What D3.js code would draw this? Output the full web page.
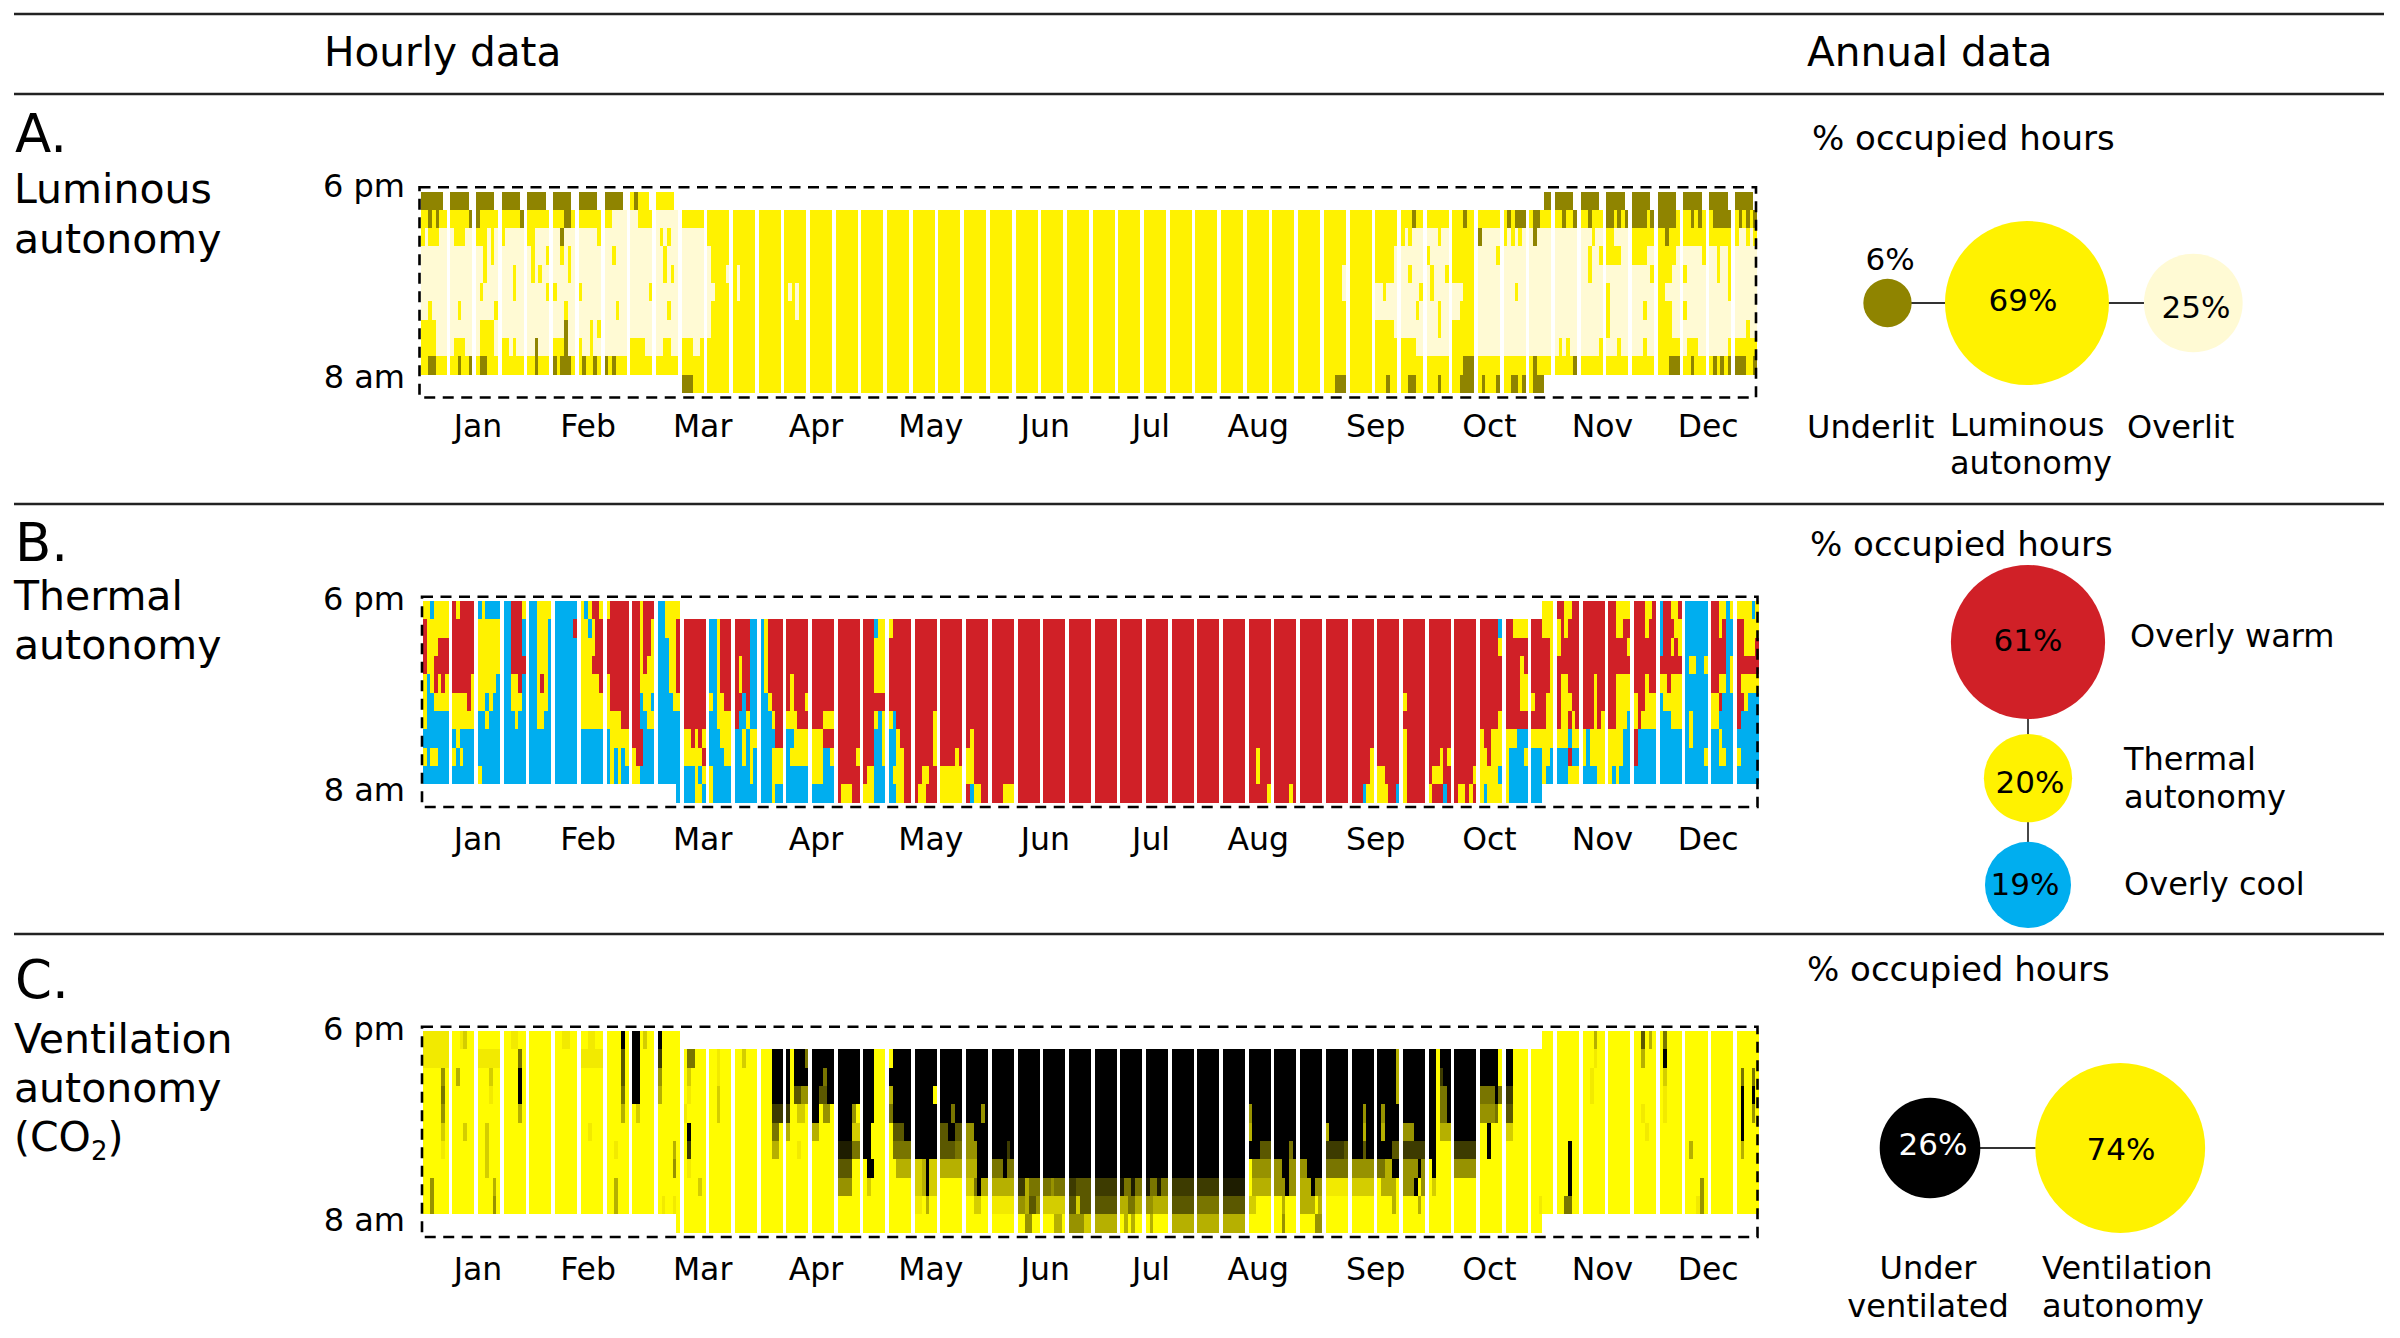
<!DOCTYPE html>
<html>
<head>
<meta charset="utf-8">
<style>
html,body{margin:0;padding:0;background:#fff;}
svg text{font-family:"DejaVu Sans",sans-serif;fill:#000;}
</style>
<script src="https://cdn.jsdelivr.net/npm/d3@7"></script>
</head>
<body>
<div id="svg"></div>
<script>
const months = ["Jan","Feb","Mar","Apr","May","Jun","Jul","Aug","Sep","Oct","Nov","Dec"];
// day of the year each month label sits on
const monthDays = [15.4,45.4,76.6,107.5,138.8,170,198.8,228,260,291,321.8,350.6];
const hourLabels = ["6 pm","8 am"];

// one line per hour (6 pm at top), one token per week: a token of one letter is the whole week,
// "X*n" repeats it for n weeks, "." is no data
// D underlit, Y luminous autonomy, P overlit
const luminousRows = [
"DDDDDD. DDDDD. DDDDD. DDDDD. DDDDD. DDDDD. DDDDD. DDDDD. YDYYY. YYYYY. .*33 ....DD DDDDD.*8",
"YYDYDYY YYYYYD DYYYYY YYYYYD Y YYYDDY Y YYPPPP PPYYYY PPPPPP Y*28 YYYDYY Y YYYDYY Y YDYDDD YDDYYY YYDYYD YYDYYY DDYDYD DDDDYD DDDDDY YYDYDY YDDDDD YDYDYD",
"YPYYYPP PYYYPP YYYPYP YPPPPP YYPPPP PPDPPP PPPPPY P P PYPYPP P Y*27 YPYPPP PPPYPP Y DPPPPP YPYPYP PDPPPP P PPPYPP YYPPPP Y YYDYYY Y Y YPPYPY",
"P P PPYPYP P PYPPPY PPYPYP P PPYPPP P PPYPPP P PYYYYY Y*25 YYYYYP P YPPPPP Y PPPPPY P P P PPYPPY YYYYPP YYYYPP YYYYYP PPPPPY PPYPPY P",
"P P PPYPPP PPPYPP PYPYPP PPPPYP P P P PPYPYP P PYYYYP YPYYYY Y*22 YYYYYP Y YYYYYP PPYPPP PYPPPY Y P P P P PPYPPP P PPPPPY YYYYPP YPPPPP PPYPPY P",
"P P PYPPPP PPPYPP PPPPPY YPPPPP YPPPPP P PPPPPY P P PPYYYY YPYYYY Y YPYPYY Y*20 YYYYYP Y PPYPPP PPPPPY PYPPPP PPPYYY P PPPYPP P P P YPPPPP P YYPPPP P PPPPPY P",
"PPYPPPP PPYPPP PPPPPY P P PPPYPP P PPPYPP P PPPYPP P PYYYYY Y Y YYYPYY Y*22 PPPPPP PPPPYP PPPYPP PPYYYY P P P P P YPPPPP PPPYPP YYYYPP YPPPPP P P",
"YYYYPPP P PYYYYP P P PPPDPP PPPYPY P P P P PYYYYY Y*25 YYYYYP P PPPYPP Y P P P P P YPPPPP P YYYYPP P P PPPYPP",
"YYYYPPP PYYYPP PYYYYP YYPYPP PPDPPP YYYDPP YPPYPP P YYYYPP PPYYPP YYYPPY Y*27 YYYYPP P Y P P P PYPYPP PPPPPY PPPYPP PPPYPP Y PYYYPP PPPPPY Y",
"YYDDYYY YYDYYD YDDYYY Y YYDYYY DYDDDY YDYYDY DYDYYY Y Y Y*30 YYYDDD Y Y YDYYYY YYYYYD Y Y Y YYYDDD YYDYYY YDYDYD DDDYYD",
".*10 DDDYYY Y*24 YYYDDD Y YYYDYY YYDDYY YYYDYY YYDDDD YDYYYD YYDDYD YDDD.. .*8"
];

// R overly warm, Y thermal autonomy, B overly cool
const thermalRows = [
"YYBYYYY RYRRRR BYBBBB BBRRRY BBYYYY B YBYRRY YRRRRR RRYRRR BBYYYY .*33 ...YYY RRYYRR R RRYYYY RRRYYR BRRYYR B RRYYBY YYYYBY",
"RYYYYYY R Y BBRRRB BBYYYB BBBBBR YYBYRR R RRYRRY BBYYYR R BBYRRR RRRRBB BYRRRR R R R RRRBYY YRRRRR R*22 RRRRRB RRYYYY RRRYYY YRYRRR R RRYYRR RRRYRR BRRRYY B RRYRBB RRYYYY",
"RYYYRRR R Y BBRRRB BBYYYB B YYYYRR R RRYRRY BBBYYR R BBYRRR RRRRBB BYRRRR R R R RRRYYY R*23 RRRRRY R RRRRRY YRRRRR R RRRRRY R BRRYRY B RRRRBB RRYYYR",
"RYYRRRR R Y BBRRRR BBYYYB B YYYRRR R RRYRYY BBBYYR R BBYRRR RYRRBB BYRRRR R R R RRRYYY R*24 RRRRYR RRRRRY R R R R R BYYBBY RRRRBY R",
"YBYRYRY RRRRRY YYYYYB BBYYRB BBYRYB B YYYYYR YRRRRR RRYYYY BBBYYR R BBYRRR RYRRBB BYRRRR RYRRRR R R RRRYYY R*24 RRRRYY RRRRRY RYYRRR RRRYRR RRYYYY RRRYRR YYRYYY B RRYYBY RYYYYY",
"YBBYYYY YYYYRY YYBYBB BBYYYB BBYYYB B Y YRRRRR RRBYYB BBBBYY R YBYYRR RRBRBB BBYRRR RYRRRY R*23 YRRRRR R*3 RRRRYY YRRRYY RYYYRR RRRYRR RRYYYY YRRYYY BYYYYY B YYRBBB RRYBBB",
"YBBBBBB Y BBYBBB BBBYBB BBYYBB B Y YYYYRR RRBBYY B R BBYYYY RBBYBB BBBYRR YYYRRR RRRYYY R RRRYBY YBRRRR RRRRRY R*21 RRRRRY R RRRRYY RYYRYR RRRYRY RRYYYB YRYYYY BBBYYY BYBBBB YYBBBB RBBBBB",
"BBBBBBB BYBBBB B B B B B BYYYYY RRRBBB B YYRYRY BBBYYY BBYBYY BBBBRR BBYYYY YYYRRR R RRRBBY BBYRRR RRRRRY R RYRRRR R*16 YRRRRR R*2 YRRYYY YYYBBB Y YYYBYY YBYYYY YYYYBB RBBBBB B BYBBBB BBYBBB B",
"YBYYBBB YBYBBB B B B B B BYBYBY YRRBBB B YYYYYR BBBBYY BBYBYB BBBYYY BYYYYY YYYBBY RRRRRY RRRBBY BBYYRR RRRRRY RRRRYR YYRRRR R*10 RRYRRR R*3 RRRRRY R YRRRRR RRRYRY R YYRYYY YBBBBY BBBYYB BBBRBB YBYYYY YYYYBB RBBBBB B BBBBBY BBYYBB YBBBBB",
"BBBBBBB B YBBBBB B B B B BYBYBB YYBBBB B BBBYBY YBBBBB BBBBYB BBBYYY B YYYBBB R RYYBBB BYYYRR RRYYRR Y YYRRRR R*10 RRYRRR R*3 RRRRRY YYRRRR YRRRRR RYYYRR RRRRRY YYYYYB YBBBBB BBBYBB BBBYYY BBBBYY YBYBBB B B B B B",
".*9 .....B BBBYYB YBBBBB B BBBYBB B B RYYYRR YYYBBB BBYYRR RYYRRR Y RBYYRR RRRYYY R*9 RRRRRY RRRRYR R*2 RRRBYY YYYRRB YRRRRR YRRRBR RYYRYR YBYYYY YBBBBB BBB... .*8"
];

// digit is how far the hour is under ventilated: 0 none, 9 the whole hour
const ventilationRows = [
"1111111 001200 0 001100 0 001100 001100 000090 990200 900000 .*33 ...000 0 000300 0 006030 050000 0 0 0",
"1 0 1 000050 0 0 1 000060 990000 700000 055000 001000 002000 000999 909995 9 9 999000 099999 9*18 999993 9 990999 9 999990 990000 0 0 000100 0 003000 090000 0 0 0",
"0000040 030000 000200 000090 0 0 0 000060 990000 400000 020000 001000 0 000999 909999 999599 9 999000 9*19 999993 9 990799 9 999990 990000 0 0 001000 0 0 020000 0 0 050050",
"0000050 0 000100 000090 0 0 0 000050 990000 300000 010000 002000 0 000999 906644 996699 9 999000 399999 999990 9*17 999993 9 990559 9 555595 770000 0 0 001000 0 0 010000 0 0 090090",
"0000040 0 0 000030 0 0 0 000030 020000 0 100000 002000 0 000777 700220 990440 999940 999000 599999 9 999599 999949 9*10 499999 9*3 999499 949999 9 990559 9 444450 660000 0 0 0 0 001000 010000 0 0 090040",
"0000020 000200 002000 0 0 0 001000 0 0 0 090000 0 0 000550 300000 330000 999922 990000 066699 9 669966 449999 9*10 399999 9*2 399999 999399 939999 444999 990333 9 009000 220000 0 0 0 0 000100 0 0 0 090000",
"0000010 0 002000 0 0 0 0 001000 0 000030 070000 0 0 000330 000100 0 888855 990000 055555 9 666655 444999 999979 9*9 999666 999959 9 777776 999699 999966 777777 990000 777777 009000 0 0 000900 0 0 0 0 030000 0 030000",
"0 0 002000 0 0 0 0 0 0 000040 010000 0 0 0 0 0 666600 099000 003333 223922 333333 333999 555955 9*9 044444 449944 449999 555555 444444 553399 444494 090000 444444 0 0 0 000900 0*7",
"0040000 0 000030 0 0 0 0 003000 0 0 000020 0 0 0 0 0 444400 020000 0 223922 0 225933 333333 773555 554555 776666 777777 855855 855855 777777 777777 888888 033333 444944 333944 111111 222222 033330 444904 020000 0 0 0 0 000900 0 0 0 0 000040 0 0",
"0040000 0 000040 0 0 0 0 003000 0 010010 0*9 110300 0 002200 111111 443664 222222 662666 666666 335533 443333 666666 555555 666666 220000 003000 333303 0 0 000030 000030 0*4 001000 005500 0*4 000140 0 0",
".*9 .....0 0*13 004400 000330 444422 333333 030300 030000 3 3 3 0 004000 000044 0*8 000... .*8"
];

const luminousAnnual = [6, 69, 25];
const thermalAnnual = [61, 20, 19];
const ventilationAnnual = [26, 74];

const W = 2400, H = 1338;
const svg = d3.select("#svg").append("svg").attr("width",W).attr("height",H).attr("viewBox","0 0 "+W+" "+H).style("display","block");

const colW = 3.67, nCols = 365, nRows = 11, rowH = 18.33;

var olive = "#8f8400", yellow = "#fff200", pale = "#fffad4", red = "#d02027", blue = "#00aeef";
var ventColor = d3.scaleLinear().domain([0,1,9]).range(["#fffc00","#f2ea00","#000000"]);
var lumColor = {D:olive, Y:yellow, P:pale};
var thermColor = {R:red, Y:yellow, B:blue};

// rows of tokens -> list of {col,row,v}
var decode = function(rows){
  var cells = [];
  rows.forEach((line,r)=>{
    var k = 0;
    line.split(" ").forEach(tok=>{
      var parts = tok.split("*");
      var n = parts.length>1 ? +parts[1] : 1;
      for (let i=0;i<n;i++){
        var t = parts[0];
        if (t.length==1) t = t.repeat(k==0 ? 7 : 6);
        var start = 7*k + 1 - (t.length-6);
        for (let j=0;j<t.length;j++){
          if (t[j]!=".") cells.push({col:start+j,row:r,v:t[j]});
        }
        k += 1;
      }
    });
    if (k!=52) console.log("row "+r+" has "+k+" weeks");
  });
  return cells;
}

var drawHeat = function(rows, color, x0, top, frameL, frameR, dy){
  var x = d3.scaleBand().domain(d3.range(nCols)).range([x0, x0+nCols*colW]);
  var y = d3.scaleBand().domain(d3.range(nRows)).range([top, top+nRows*rowH]);
  svg.append("g").selectAll("rect").data(decode(rows)).enter().append("rect")
    .attr("x",d=>x(d.col))
    .attr("y",d=>y(d.row))
    .attr("width",x.bandwidth())
    .attr("height",y.bandwidth())
    .attr("fill",d=>color(d.v))
    .attr("shape-rendering","crispEdges");

  svg.append("rect")
    .attr("x",frameL).attr("y",top-4.2)
    .attr("width",frameR-frameL).attr("height",nRows*rowH+8.6)
    .attr("fill","none").attr("stroke","#000").attr("stroke-width",2.6)
    .attr("stroke-dasharray","11 7.5");

  var mx = d3.scaleLinear().domain([0,365]).range([421,421+365*colW]);
  var ax = svg.append("g").attr("transform","translate(0,"+(top+220+dy)+")")
    .call(d3.axisBottom(mx).tickValues(monthDays).tickFormat((d,i)=>months[i]).tickSize(0));
  ax.select(".domain").remove();
  ax.selectAll("text").attr("font-size",31.5);

  var hy = d3.scalePoint().domain(hourLabels).range([top-5+dy,top+185.5+dy]);
  var ay = svg.append("g").attr("transform","translate(408,0)")
    .call(d3.axisLeft(hy).tickSize(0));
  ay.select(".domain").remove();
  ay.selectAll("text").attr("font-size",32);
}

drawHeat(luminousRows, v=>lumColor[v], 421, 191.5, 419.5, 1756, 0);
drawHeat(thermalRows, v=>thermColor[v], 423, 601, 422, 1757.5, 3.5);
drawHeat(ventilationRows, v=>ventColor(+v), 423, 1031, 422, 1757.5, 3.5);

// rules
[14,94,504,934].forEach(v=>{
  svg.append("line").attr("x1",14).attr("x2",2384).attr("y1",v).attr("y2",v)
    .attr("stroke","#222").attr("stroke-width",2.4);
});

var label = function(txt,x,y,size,anchor,fill){
  return svg.append("text").attr("x",x).attr("y",y).attr("font-size",size)
    .attr("text-anchor",anchor||"start").style("fill",fill||"#000").text(txt);
}

label("Hourly data",324,66,40.6);
label("Annual data",1807,66,40.6);

label("A.",15,152,53);
label("Luminous",14,203,41);
label("autonomy",14,253,41);
label("B.",15,561,53);
label("Thermal",14,610,41);
label("autonomy",14,659,41);
label("C.",15,998,53);
label("Ventilation",14,1053,41);
label("autonomy",14,1102,41);
var co2 = label("(CO",14,1151,41);
co2.append("tspan").attr("dy",9).attr("font-size",26).text("2");
co2.append("tspan").attr("dy",-9).text(")");

label("% occupied hours",1812,149.5,34);
label("% occupied hours",1810,555.5,34);
label("% occupied hours",1807,980.5,34);

// radius from share of hours, area proportional
var radius = d3.scaleSqrt().domain([0,100]).range([0,98.7]);

// circles in a chain, each spaced from the one before by a connector
var drawChain = function(values, colors, startX, startY, gaps, vertical){
  var pos = vertical ? startY : startX;
  var nodes = values.map((v,i)=>{
    var r = radius(v);
    if (i>0) pos += radius(values[i-1]) + gaps[i-1] + r;
    return vertical ? {x:startX,y:pos,r:r,c:colors[i]} : {x:pos,y:startY,r:r,c:colors[i]};
  });
  d3.pairs(nodes).forEach(p=>{
    svg.append("line").attr("x1",p[0].x).attr("y1",p[0].y).attr("x2",p[1].x).attr("y2",p[1].y)
      .attr("stroke","#333").attr("stroke-width",1.8);
  });
  svg.append("g").selectAll("circle").data(nodes).enter().append("circle")
    .attr("cx",d=>d.x).attr("cy",d=>d.y).attr("r",d=>d.r).attr("fill",d=>d.c);
}

drawChain(luminousAnnual, [olive,yellow,pale], 1887.5, 303, [33.3,35], false);
drawChain(thermalAnnual, [red,yellow,blue], 2028, 642, [15,19.5], true);
drawChain(ventilationAnnual, ["#000","#fff200"], 1930, 1148, [55], false);

var pct = v=>v+"%";
label(pct(luminousAnnual[0]),1890,270,31,"middle");
label(pct(luminousAnnual[1]),2023,311,31,"middle");
label(pct(luminousAnnual[2]),2196,318,31,"middle");
label(pct(thermalAnnual[0]),2028,651,31,"middle");
label(pct(thermalAnnual[1]),2030,793,31,"middle");
label(pct(thermalAnnual[2]),2025,895,31,"middle");
label(pct(ventilationAnnual[0]),1933,1155,31,"middle","#fff");
label(pct(ventilationAnnual[1]),2121,1160,31,"middle");

label("Underlit",1807,438,32);
label("Luminous",1950,436,32);
label("autonomy",1950,474,32);
label("Overlit",2127,438,32);

label("Overly warm",2130,647,32);
label("Thermal",2124,770,32);
label("autonomy",2124,808,32);
label("Overly cool",2124,895,32);

label("Under",1928,1279,32,"middle");
label("ventilated",1928,1317,32,"middle");
label("Ventilation",2042,1279,32);
label("autonomy",2042,1317,32);
</script>
</body>
</html>
